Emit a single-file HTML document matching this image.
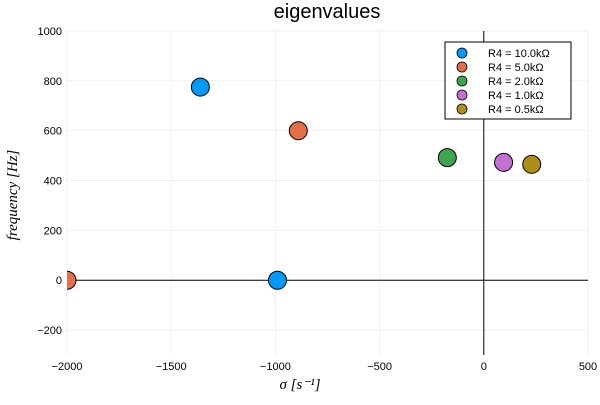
<!DOCTYPE html>
<html><head><meta charset="utf-8"><style>
body{margin:0;background:#fff;}
svg{font-family:"Liberation Sans",sans-serif;}
</style></head><body>
<svg id="chart" width="600" height="400" viewBox="0 0 600 400">
<rect width="600" height="400" fill="#fff"/>
<text x="327" y="18" text-anchor="middle" font-size="20">eigenvalues</text>
<g id="grid"></g><g id="axes"></g><g id="marks"></g>
<rect x="445" y="42" width="126" height="77" fill="#fff" stroke="#000" stroke-width="1"/>
<g id="legend"></g>
<text x="300" y="389" text-anchor="middle" font-family="Liberation Serif,serif" font-style="italic" font-size="15">σ  [s⁻¹]</text>
<text transform="translate(17,195) rotate(-90)" text-anchor="middle" font-family="Liberation Serif,serif" font-style="italic" font-size="15">frequency  [Hz]</text>
</svg>
<script>
const seriesNames=["R4 = 10.0kΩ","R4 = 5.0kΩ","R4 = 2.0kΩ","R4 = 1.0kΩ","R4 = 0.5kΩ"];
const colors=["#009AFA","#E36F47","#3EA44E","#C371D2","#AC8E18"];
const sigmaValues=[[-1360,-990],[-890,-2000],[-175],[95],[230]];
const freqValues=[[775,0],[600,0],[492],[473],[465]];
const xTicks=[-2000,-1500,-1000,-500,0,500];
const yTicks=[-200,0,200,400,600,800,1000];
const NS="http://www.w3.org/2000/svg";
const X0=67,X1=588,Y0=355,Y1=31,xmin=-2000,xmax=500,ymin=-300,ymax=1000;
const sx=v=>X0+(v-xmin)/(xmax-xmin)*(X1-X0);
const sy=v=>Y0-(v-ymin)/(ymax-ymin)*(Y0-Y1);
function mk(tag,attrs,parent){const e=document.createElementNS(NS,tag);for(const k in attrs)e.setAttribute(k,attrs[k]);parent.appendChild(e);return e;}
const grid=document.getElementById('grid'),axes=document.getElementById('axes'),marks=document.getElementById('marks'),leg=document.getElementById('legend');
xTicks.forEach(t=>{
 const l=mk('line',{x1:sx(t),x2:sx(t),y1:Y1,y2:Y0,stroke:'#000','stroke-opacity':0.1,'stroke-width':0.5},grid);
 
 
 const tx=mk('text',{x:sx(t),y:Y0+15,'text-anchor':'middle','font-size':11},axes);
 tx.textContent=t<0?'−'+(-t):t;
 
 
});
yTicks.forEach(t=>{
 const l=mk('line',{x1:X0,x2:X1,y1:sy(t),y2:sy(t),stroke:'#000','stroke-opacity':0.1,'stroke-width':0.5},grid);
 
 
 const tx=mk('text',{x:X0-5,y:sy(t)+4,'text-anchor':'end','font-size':11},axes);
 tx.textContent=t<0?'−'+(-t):t;
 
 
});
const h=mk('line',{x1:X0,x2:X1,y1:sy(0),y2:sy(0),stroke:'#000','stroke-width':1},axes);


const v=mk('line',{x1:sx(0),x2:sx(0),y1:Y1,y2:Y0,stroke:'#000','stroke-width':1},axes);


const cp=mk('clipPath',{id:'clip'},marks);mk('rect',{x:X0,y:Y1,width:X1-X0,height:Y0-Y1},cp);
const mg=mk('g',{'clip-path':'url(#clip)'},marks);
sigmaValues.forEach((arr,i)=>{
 arr.forEach((s,j)=>{
  const c=mk('circle',{cx:sx(s),cy:sy(freqValues[i][j]),r:9,fill:colors[i],stroke:'#000','stroke-width':1},mg);
  
  
 });
 const y=53+i*14;
 const lc=mk('circle',{cx:462,cy:y,r:5,fill:colors[i],stroke:'#000','stroke-width':0.8},leg);
 
 
 const lt=mk('text',{x:488,y:y+4,'font-size':11},leg);
 lt.textContent=seriesNames[i];
 
 
});
</script>
</body></html>
